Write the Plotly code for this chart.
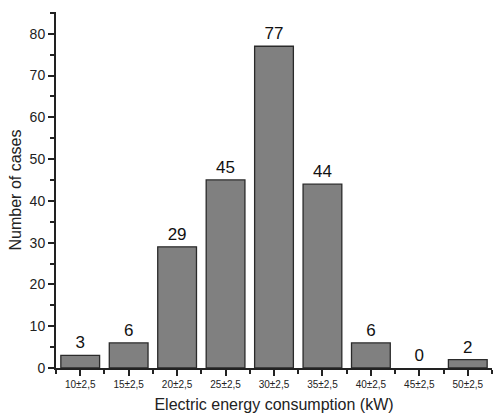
import plotly.graph_objects as go

categories = ["10±2,5", "15±2,5", "20±2,5", "25±2,5", "30±2,5", "35±2,5", "40±2,5", "45±2,5", "50±2,5"]
counts = [3, 6, 29, 45, 77, 44, 6, 0, 2]
y_ticks = [0, 10, 20, 30, 40, 50, 60, 70, 80]

xpos = list(range(len(categories)))

fig = go.Figure()
fig.add_trace(go.Bar(
    x=xpos, y=counts, width=0.8,
    marker=dict(color="#808080",
                line=dict(color="#2a2a2a", width=[1.3 if c > 0 else 0 for c in counts])),
    text=[str(c) for c in counts], textposition="outside",
    textfont=dict(family="Liberation Sans, Arial", size=17, color="#111111"),
    cliponaxis=False,
))

axis_font = dict(family="Liberation Sans, Arial", color="#222222")
fig.update_layout(
    width=494, height=414,
    margin=dict(l=56, r=2, t=12, b=46),
    plot_bgcolor="white", paper_bgcolor="white",
    showlegend=False,
    xaxis=dict(
        range=[-0.5, 8.5], tickmode="array", tickvals=xpos, ticktext=categories,
        ticks="outside", ticklen=6, tickwidth=1.5, tickcolor="#222222",
        tickfont=dict(size=10, **axis_font),
        showline=True, linewidth=2, linecolor="#222222", showgrid=False, zeroline=False,
        minor=dict(tick0=0.5, dtick=1, ticks="outside", ticklen=4, tickwidth=1.5, tickcolor="#222222", showgrid=False),
        title=dict(text="Electric energy consumption (kW)", font=dict(size=16, **axis_font), standoff=10),
    ),
    yaxis=dict(
        range=[0, 85.2], tickmode="array", tickvals=y_ticks,
        ticks="outside", ticklen=6, tickwidth=1.5, tickcolor="#222222",
        tickfont=dict(size=14, **axis_font),
        showline=True, linewidth=2, linecolor="#222222", showgrid=False, zeroline=False,
        minor=dict(tick0=5, dtick=10, ticks="outside", ticklen=4, tickwidth=1.5, tickcolor="#222222", showgrid=False),
        title=dict(text="Number of cases", font=dict(size=16, **axis_font), standoff=4),
    ),
)

fig.write_html("out.html", config={"displayModeBar": False},
               post_script="document.body.style.margin='0';document.body.style.padding='0';")
